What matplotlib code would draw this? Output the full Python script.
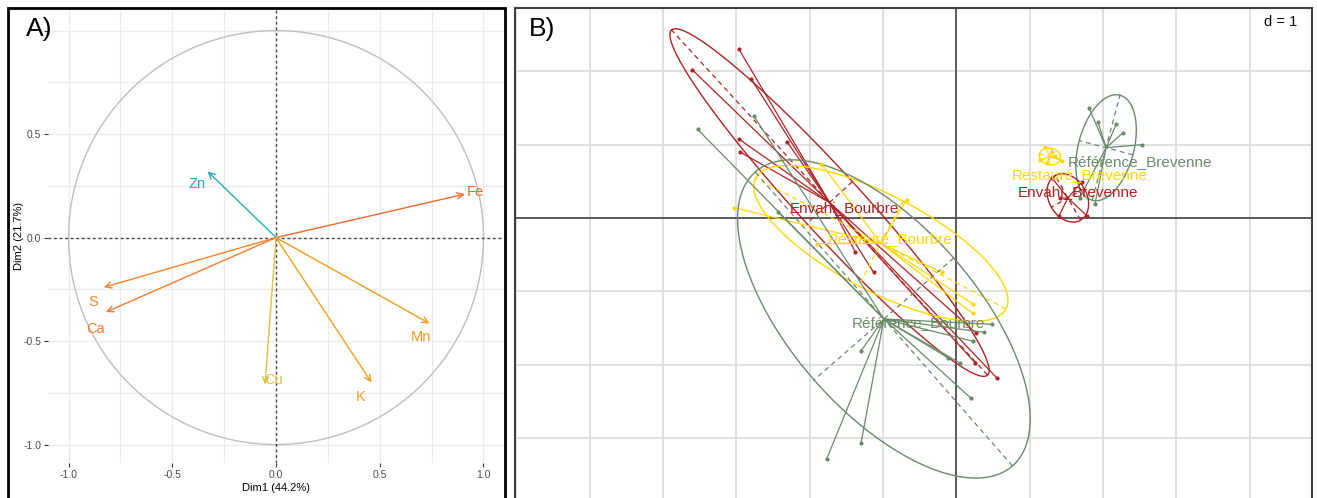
import numpy as np
import matplotlib
matplotlib.use('Agg')
import matplotlib.pyplot as plt
from matplotlib.patches import Rectangle, Circle

plt.rcParams['font.family'] = ['Liberation Sans', 'DejaVu Sans']

W, H = 1317, 498

# ---- panel A : correlation circle ----
var_names = ['Fe', 'Zn', 'S', 'Ca', 'Mn', 'K', 'Cu']
dim1 = [0.91, -0.33, -0.83, -0.82, 0.74, 0.46, -0.053]
dim2 = [0.21, 0.32, -0.24, -0.36, -0.415, -0.70, -0.71]
var_colors = ['#F9672A', '#1FB0B8', '#F7842B', '#F87A2C', '#F39A1C', '#F2A01A', '#E3C23A']
# label places (repelled text)
label_xy = [(0.96, 0.22), (-0.38, 0.26), (-0.88, -0.31), (-0.87, -0.44),
            (0.70, -0.48), (0.41, -0.77), (-0.01, -0.69)]

# ---- panel B : s.class groups ----
groups = ['Envahi_Bourbre', 'Restauré_Bourbre', 'Référence_Bourbre',
          'Référence_Brevenne', 'Restauré_Brevenne', 'Envahi_Brevenne']
env_bou_x = [-2.97, -3.60, -2.80, -2.97, -2.95, -2.31, -1.38, -1.13, 0.27, 0.26, 0.55]
env_bou_y = [2.31, 2.02, 1.90, 1.08, 0.90, 1.04, -0.46, -0.74, -1.57, -1.98, -2.18]
res_bou_x = [-1.84, -0.68, -3.03, -1.90, -0.20, 0.22, 0.22]
res_bou_y = [0.74, 0.25, 0.14, -0.35, -0.74, -1.17, -1.30]
ref_bou_x = [-3.53, -2.76, -2.43, -1.30, -1.30, -1.77, 0.48, 0.38, 0.22, -0.11, 0.05, 0.20]
ref_bou_y = [1.21, 1.39, 0.08, -1.81, -3.07, -3.29, -1.45, -1.56, -1.68, -1.91, -1.98, -2.46]
ref_bre_x = [1.81, 1.93, 2.18, 2.27, 2.53, 1.68, 1.89]
ref_bre_y = [1.50, 1.31, 1.28, 1.16, 1.00, 0.27, 0.19]
res_bre_x = [1.21, 1.14, 1.23, 1.34, 1.44, 1.30]
res_bre_y = [0.97, 0.79, 0.75, 0.85, 0.78, 0.90]
env_bre_x = [1.41, 1.40, 1.78, 1.30, 1.71]
env_bre_y = [0.27, 0.03, 0.03, 0.55, 0.49]

group_x = [env_bou_x, res_bou_x, ref_bou_x, ref_bre_x, res_bre_x, env_bre_x]
group_y = [env_bou_y, res_bou_y, ref_bou_y, ref_bre_y, res_bre_y, env_bre_y]
group_colors = ['#B22222', '#FFD700', '#698B69', '#698B69', '#FFD700', '#B22222']
# where the class labels sit (left edge, middle)
label_pos = {'Envahi_Bourbre': (-2.27, 0.14), 'Restauré_Bourbre': (-1.75, -0.29),
             'Référence_Bourbre': (-1.43, -1.43), 'Référence_Brevenne': (1.52, 0.77),
             'Restauré_Brevenne': (0.76, 0.59), 'Envahi_Brevenne': (0.84, 0.35)}


def px_axes(fig, l, t, r, b):
    return fig.add_axes([l / W, 1 - b / H, (r - l) / W, (b - t) / H])


def s_class(ax, x, y, color, cellipse=1.5):
    x = np.asarray(x)
    y = np.asarray(y)
    mx, my = x.mean(), y.mean()
    cov = np.cov(np.vstack([x, y]), bias=True)
    vals, vecs = np.linalg.eigh(cov)
    for xi, yi in zip(x, y):
        ax.plot([xi, mx], [yi, my], color=color, lw=0.9, zorder=3)
    ax.scatter(x, y, s=9, color=color, zorder=4, linewidths=0)
    t = np.linspace(0, 2 * np.pi, 200)
    a = cellipse * np.sqrt(vals)
    ex = mx + a[1] * np.cos(t) * vecs[0, 1] + a[0] * np.sin(t) * vecs[0, 0]
    ey = my + a[1] * np.cos(t) * vecs[1, 1] + a[0] * np.sin(t) * vecs[1, 0]
    ax.plot(ex, ey, color=color, lw=1.0, zorder=3)
    for k in range(2):
        dx, dy = a[k] * vecs[0, k], a[k] * vecs[1, k]
        ax.plot([mx - dx, mx + dx], [my - dy, my + dy], color=color, lw=0.9,
                ls=(0, (4, 3)), zorder=3)


fig = plt.figure(figsize=(W / 100, H / 100), dpi=100)

# ---------- A ----------
axA = px_axes(fig, 48, 8, 503, 463)
axA.set_xlim(-1.099, 1.094)
axA.set_ylim(-1.089, 1.109)
for v in np.arange(-1.0, 1.01, 0.25):
    axA.axvline(v, color='#EBEBEB', lw=0.9, zorder=0)
    axA.axhline(v, color='#EBEBEB', lw=0.9, zorder=0)
axA.add_patch(Circle((0, 0), 1, fill=False, ec='#BEBEBE', lw=1.0, zorder=1))
axA.axhline(0, color='#444444', lw=1.0, ls=(0, (2, 2)), zorder=2)
axA.axvline(0, color='#444444', lw=1.0, ls=(0, (2, 2)), zorder=2)
for name, xv, yv, c, (lx, ly) in zip(var_names, dim1, dim2, var_colors, label_xy):
    axA.annotate('', xy=(xv, yv), xytext=(0, 0),
                 arrowprops=dict(arrowstyle='->,head_length=0.45,head_width=0.22',
                                 color=c, lw=1.0, shrinkA=0, shrinkB=0), zorder=3)
    axA.text(lx, ly, name, color=c, fontsize=10.5, ha='center', va='center', zorder=4)
axA.set_xticks([-1.0, -0.5, 0.0, 0.5, 1.0])
axA.set_xticklabels(['-1.0', '-0.5', '0.0', '0.5', '1.0'])
axA.set_yticks([-1.0, -0.5, 0.0, 0.5, 1.0])
axA.set_yticklabels(['-1.0', '-0.5', '0.0', '0.5', ''])
axA.tick_params(labelsize=7.5, labelcolor='#4D4D4D', color='#333333', length=3, width=0.8, pad=2)
for s in axA.spines.values():
    s.set_visible(False)
axA.set_xlabel('Dim1 (44.2%)', fontsize=8, labelpad=2)
axA.set_ylabel('Dim2 (21.7%)', fontsize=8)
axA.yaxis.set_label_coords(-0.052, 0.5)
fig.add_artist(Rectangle((8 / W, -0.02), (505 - 8) / W, 1 - 8 / H + 0.02,
                         transform=fig.transFigure, fill=False, ec='black', lw=2))
fig.text(26 / W, 1 - 29 / H, 'A)', fontsize=19, ha='left', va='center')

# ---------- B ----------
axB = px_axes(fig, 515, 8, 1312, 498)
axB.set_xlim(-6.02, 4.85)
axB.set_ylim(-3.82, 2.865)
for v in range(-6, 5):
    axB.axvline(v, color='#DADADA', lw=1.2, zorder=0)
for v in range(-3, 3):
    axB.axhline(v, color='#DADADA', lw=1.2, zorder=0)
axB.axhline(0, color='#444444', lw=1.2, zorder=1)
axB.axvline(0, color='#444444', lw=1.2, zorder=1)
for gname, gx, gy, gc in zip(groups, group_x, group_y, group_colors):
    s_class(axB, gx, gy, gc)
for gname, gc in zip(groups, group_colors):
    lx, ly = label_pos[gname]
    axB.text(lx, ly, gname, color=gc, fontsize=11, ha='left', va='center', zorder=6)
axB.text(0.981, 0.971, 'd = 1', transform=axB.transAxes, fontsize=10.5,
         ha='right', va='center')
axB.set_xticks([])
axB.set_yticks([])
for k, s in axB.spines.items():
    s.set_color('#404040')
    s.set_linewidth(1.5)
axB.spines['bottom'].set_visible(False)
fig.text(529 / W, 1 - 29 / H, 'B)', fontsize=19, ha='left', va='center')

fig.savefig('out.png', dpi=100)
